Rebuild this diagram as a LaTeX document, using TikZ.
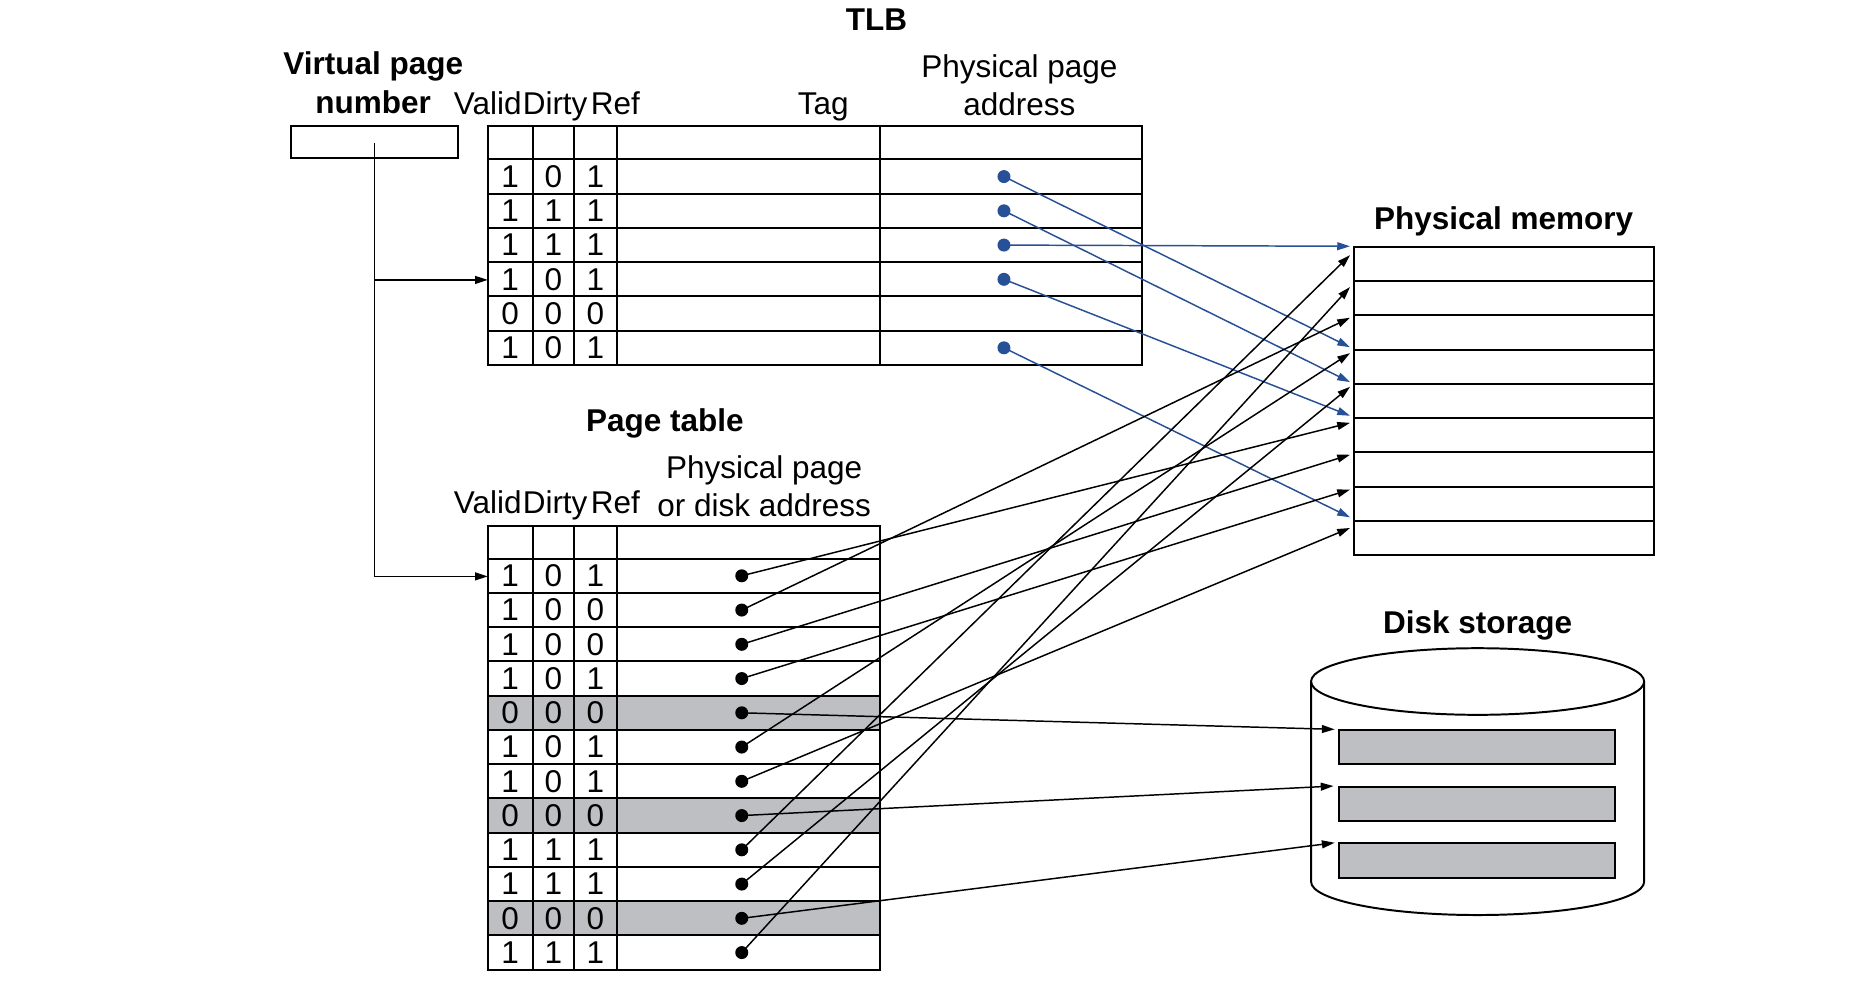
\documentclass[tikz,border=0pt]{standalone}
\usepackage{fontspec}
\setmainfont{Liberation Sans}
\usetikzlibrary{arrows.meta}
\definecolor{tlbblue}{RGB}{40,80,150}
\definecolor{cellgray}{RGB}{190,191,195}
\begin{document}
\begin{tikzpicture}[x=0.6pt,y=-0.6pt,
  lbl/.style={font=\fontsize{16}{18}\selectfont, inner sep=0, anchor=base},
  ttl/.style={font=\fontsize{16}{18}\selectfont\bfseries, inner sep=0, anchor=base},
  dig/.style={font=\fontsize{16}{18}\selectfont, inner sep=0},
  gridline/.style={line width=1pt},
  bdot/.style={circle, fill=black, inner sep=0, minimum size=6.6pt},
  bluedot/.style={circle, fill=tlbblue, inner sep=0, minimum size=6.6pt},
  conn/.style={line width=0.75pt, -{Triangle[length=6.5pt,width=4pt]}},
  bconn/.style={line width=0.75pt, draw=tlbblue, -{Triangle[length=6.5pt,width=4pt,fill=tlbblue]}}]
\useasboundingbox (0,0) rectangle (1568,845);

% ---------- titles and labels ----------
\node[ttl] (tlbt) at (742,26) {TLB};
\node[ttl] (vpna) at (316,63) {Virtual page};
\node[ttl] (vpnb) at (316,96) {number};
\node[lbl] (tva) at (413,97) {Valid};
\node[lbl] (tdi) at (470,97) {Dirty};
\node[lbl] (tre) at (521,97) {Ref};
\node[lbl] (ttag) at (697,97) {Tag};
\node[lbl] (tppa) at (863,66) {Physical page};
\node[lbl] (tppb) at (863,98) {address};

\node[ttl] (ptt) at (563,365) {Page table};
\node[lbl] (pva) at (413,435) {Valid};
\node[lbl] (pdi) at (470,435) {Dirty};
\node[lbl] (pre) at (521,435) {Ref};
\node[lbl] (pppa) at (647,405) {Physical page};
\node[lbl] (pppb) at (647,437) {or disk address};

\node[ttl] (pmt) at (1273,194) {Physical memory};
\node[ttl] (dst) at (1251,536) {Disk storage};

% ---------- virtual page number box ----------
\node[draw, gridline, minimum width=85.2pt, minimum height=16.2pt, inner sep=0] (vpn) at (317,120.5) {};

% ---------- TLB ----------
\draw[gridline] (413,107) rectangle (967,309);
\foreach \yy in {135,164,193,222,251,280} \draw[gridline] (413,\yy) -- (967,\yy);
\foreach \xx in {451,486,522,745} \draw[gridline] (\xx,107) -- (\xx,309);
\foreach \yy/\a/\b/\c [count=\i] in {149.5/1/0/1,178.5/1/1/1,207.5/1/1/1,236.5/1/0/1,265.5/0/0/0,294.5/1/0/1}{
  \node[dig] (tlbv\i) at (432,\yy) {\a};
  \node[dig] (tlbd\i) at (468.5,\yy) {\b};
  \node[dig] (tlbr\i) at (504,\yy) {\c};
}
\coordinate (tlbin) at (413,237);

% ---------- Page table ----------
\foreach \yy in {589,676,763} \fill[cellgray] (413,\yy) rectangle (745,\yy+29);
\draw[gridline] (413,445) rectangle (745,821);
\foreach \yy in {473,502,531,560,589,618,647,676,705,734,763,792} \draw[gridline] (413,\yy) -- (745,\yy);
\foreach \xx in {451,486,522} \draw[gridline] (\xx,445) -- (\xx,821);
\foreach \yy/\a/\b/\c [count=\i] in {487.5/1/0/1,516.5/1/0/0,545.5/1/0/0,574.5/1/0/1,603.5/0/0/0,632.5/1/0/1,661.5/1/0/1,690.5/0/0/0,719.5/1/1/1,748.5/1/1/1,777.5/0/0/0,806.5/1/1/1}{
  \node[dig] (ptv\i) at (432,\yy) {\a};
  \node[dig] (ptd\i) at (468.5,\yy) {\b};
  \node[dig] (ptr\i) at (504,\yy) {\c};
  \node[bdot] (pd\i) at (628,\yy) {};
}
\coordinate (ptin) at (413,488);

% ---------- Physical memory ----------
\draw[gridline] (1146,209) rectangle (1400,470);
\foreach \k in {1,...,8} \draw[gridline] (1146,209+29*\k) -- (1400,209+29*\k);

% ---------- Disk storage ----------
\draw[gridline] (1251,577) ellipse [x radius=141, y radius=28.2];
\draw[gridline] (1110,577) -- (1110,746.5) arc[start angle=180, end angle=0, x radius=141, y radius=28.2] -- (1392,577);
\foreach \yy [count=\i] in {618,666,714} \draw[gridline, fill=cellgray] (1134,\yy) rectangle (1367,\yy+29);

% ---------- target coordinates ----------
\foreach \yy [count=\i] in {216,243,269,299,327.5,358,385,414.5,447}
  \coordinate (pm\i) at (1143,\yy);
\foreach \yy [count=\i] in {208.5,294,323.5,352,438}
  \coordinate (pb\i) at (1143,\yy);
\coordinate (dk1) at (1130,617.5);
\coordinate (dk2) at (1129,665.5);
\coordinate (dk3) at (1130,713.5);

% ---------- VPN connectors ----------
\coordinate (vpnsrc) at (317,121);
\coordinate (vpnj) at (317,237);
\draw[conn] (vpnsrc) |- (ptin);
\draw[conn] (vpnj) -- (tlbin);

% ---------- TLB dots and blue connectors ----------
\node[bluedot] (td1) at (850,149.5) {};
\node[bluedot] (td2) at (850,178.5) {};
\node[bluedot] (td3) at (850,207.5) {};
\node[bluedot] (td4) at (850,236.5) {};
\node[bluedot] (td6) at (850,294.5) {};
\draw[bconn] (td1.center) -- (pb2);
\draw[bconn] (td2.center) -- (pb3);
\draw[bconn] (td3.center) -- (pb1);
\draw[bconn] (td4.center) -- (pb4);
\draw[bconn] (td6.center) -- (pb5);

% ---------- page table connectors ----------
\draw[conn] (pd1.center) -- (pm6);
\draw[conn] (pd2.center) -- (pm3);
\draw[conn] (pd3.center) -- (pm7);
\draw[conn] (pd4.center) -- (pm8);
\draw[conn] (pd6.center) -- (pm4);
\draw[conn] (pd7.center) -- (pm9);
\draw[conn] (pd9.center) -- (pm1);
\draw[conn] (pd10.center) -- (pm5);
\draw[conn] (pd12.center) -- (pm2);
\draw[conn] (pd5.center) -- (dk1);
\draw[conn] (pd8.center) -- (dk2);
\draw[conn] (pd11.center) -- (dk3);
\end{tikzpicture}
\end{document}
